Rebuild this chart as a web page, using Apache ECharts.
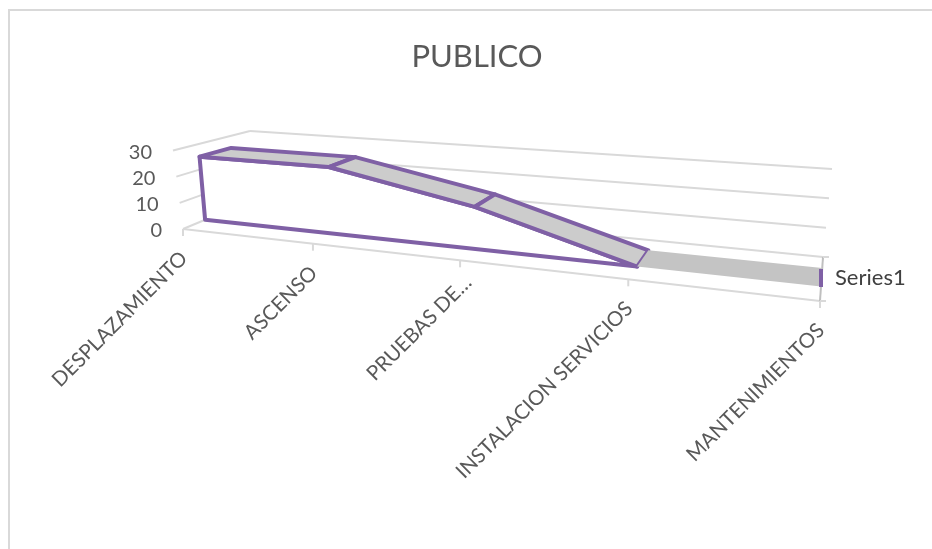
<!DOCTYPE html>
<html>
<head>
<meta charset="utf-8">
<style>html,body{margin:0;padding:0;background:#fff}#c{width:932px;height:549px}</style>
<script src="https://cdn.jsdelivr.net/npm/echarts@6/dist/echarts.min.js"></script>
</head>
<body>
<div id="c"></div>
<script>
const categories = ['DESPLAZAMIENTO', 'ASCENSO', 'PRUEBAS DE…', 'INSTALACION SERVICIOS', 'MANTENIMIENTOS'];
const seriesName = 'Series1';
const seriesValues = [25, 25, 15, 0, 0];
const valueTicks = [0, 10, 20, 30];
const titleText = 'PUBLICO';

const FONT = 'Lato, "Open Sans", sans-serif';
const GRID = {left: 100, top: 100, width: 600, height: 300};
// 3-D view of the plot box: where the axis scales land on screen
const VIEW = {
  floorFront: [[183, 229], [820, 301]], floorBack: [[250, 201], [823, 257]],
  topFront: [[173, 150.5], [828, 202]], topBack: [[250, 131], [832, 169]],
  warpFront: [0, 0.204, 0.435, 0.699, 1], warpBack: [0, 0.209, 0.445, 0.707, 1]
};
const RIBBON = {front: 0.33, back: 0.75};
const LABEL_NUDGE = [0, 0, 7, 0, 0];
const lerp = (a, b, k) => a + (b - a) * k;
const lerp2 = (a, b, k) => [lerp(a[0], b[0], k), lerp(a[1], b[1], k)];
function warp(t, stops) {
  const n = stops.length - 1, f = Math.min(n - 1e-9, Math.max(0, t * n)), i = Math.floor(f);
  return lerp(stops[i], stops[i + 1], f - i);
}
// axis-scale pixel -> perspective screen point, at depth d (0 front, 1 back)
function project(p, d) {
  const t = (p[0] - GRID.left) / GRID.width;
  const s = (GRID.top + GRID.height - p[1]) / GRID.height;
  const uF = warp(t, VIEW.warpFront), uB = warp(t, VIEW.warpBack);
  const floor = lerp2(lerp2(VIEW.floorFront[0], VIEW.floorFront[1], uF), lerp2(VIEW.floorBack[0], VIEW.floorBack[1], uB), d);
  const top = lerp2(lerp2(VIEW.topFront[0], VIEW.topFront[1], uF), lerp2(VIEW.topBack[0], VIEW.topBack[1], uB), d);
  return lerp2(floor, top, s);
}
const GRIDLINE = {stroke: '#d9d9d9', lineWidth: 2};
const line = (a, b, style) => ({type: 'line', shape: {x1: a[0], y1: a[1], x2: b[0], y2: b[1]}, style: style || GRIDLINE, silent: true});

function renderFrame(params, api) {
  const kids = [];
  const last = categories.length - 1;
  valueTicks.forEach(v => {
    const l = api.coord([0, v]), r = api.coord([last, v]);
    kids.push(line(project(l, 0), project(l, 1)));
    kids.push(line(project(l, 1), project(r, 1)));
    const a = project(l, 0);
    kids.push({type: 'text', x: a[0] - 21, y: a[1] + 2, silent: true,
      style: {text: String(v), align: 'right', verticalAlign: 'middle', font: '20px ' + FONT, fill: '#595959'}});
  });
  const f0 = project(api.coord([0, 0]), 0), f1 = project(api.coord([last, 0]), 0);
  kids.push(line(f0, f1));
  categories.forEach((c, i) => {
    const a = project(api.coord([i, 0]), 0);
    kids.push(line(a, [a[0], a[1] + 7]));
    kids.push({type: 'text', x: a[0] + 1 + LABEL_NUDGE[i], y: a[1] + 26 - LABEL_NUDGE[i], rotation: Math.PI / 4, silent: true,
      style: {text: c, align: 'right', verticalAlign: 'middle', font: '20.5px ' + FONT, fill: '#595959'}});
  });
  const rb = project(api.coord([last, 0]), 1);
  kids.push(line(rb, f1, {stroke: '#bfbfbf', lineWidth: 2}));
  kids.push(line(rb, [rb[0] + 6, rb[1]]));
  kids.push(line(f1, [f1[0] + 6, f1[1]]));
  return {type: 'group', children: kids};
}

const PURPLE = '#7f60a5';
function renderSeries(params, api) {
  const i = params.dataIndex, kids = [];
  const n = seriesValues.length;
  if (i === 0) {
    // front face of the ribbon, closed along the floor
    const pts = [];
    for (let k = 0; k < n; k++) { if (k === 0 || seriesValues[k - 1] !== 0) pts.push(project(api.coord([k, seriesValues[k]]), RIBBON.front)); }
    pts.push(project(api.coord([0, 0]), RIBBON.front));
    kids.push({type: 'polygon', shape: {points: pts}, silent: true,
      style: {fill: '#ffffff', stroke: PURPLE, lineWidth: 4, lineJoin: 'round'}});
  }
  if (i < n - 1) {
    const a = api.coord([i, seriesValues[i]]), b = api.coord([i + 1, seriesValues[i + 1]]);
    const flat = seriesValues[i] === 0 && seriesValues[i + 1] === 0;
    kids.push({type: 'polygon', silent: true,
      shape: {points: [project(a, RIBBON.front), project(b, RIBBON.front), project(b, RIBBON.back), project(a, RIBBON.back)]},
      style: flat ? {fill: '#c4c4c4'} : {fill: '#cccccc', stroke: PURPLE, lineWidth: 4, lineJoin: 'round'}});
  }
  return {type: 'group', children: kids};
}

const chart = echarts.init(document.getElementById('c'), null, {renderer: 'canvas'});
chart.setOption({
  animation: false,
  backgroundColor: '#ffffff',
  color: [PURPLE],
  title: {text: titleText, left: 472, top: 36, textAlign: 'center',
    textStyle: {fontFamily: FONT, fontSize: 31, fontWeight: 'normal', color: '#595959'}},
  legend: {left: 814, top: 262, orient: 'vertical', icon: 'rect', itemWidth: 4, itemHeight: 18, selectedMode: false,
    data: [{name: seriesName, itemStyle: {color: PURPLE}}],
    textStyle: {fontFamily: FONT, fontSize: 22, color: '#404040', padding: [4, 0, 0, 7]}},
  graphic: [{type: 'rect', shape: {x: 9, y: 10, width: 1200, height: 1000}, silent: true, z: -1,
    style: {fill: 'none', stroke: '#d9d9d9', lineWidth: 2}}],
  tooltip: {show: false},
  grid: GRID,
  xAxis: {type: 'category', data: categories, boundaryGap: false, show: false},
  yAxis: {type: 'value', min: 0, max: 30, interval: 10, show: false},
  series: [
    {type: 'custom', name: 'frame', data: [[0, 0]], encode: {x: 0, y: 1}, renderItem: renderFrame, z: 1, silent: true},
    {type: 'custom', name: seriesName, data: seriesValues.map((v, i) => [i, v]), encode: {x: 0, y: 1}, renderItem: renderSeries, z: 2, silent: true}
  ]
});
</script>
</body>
</html>
